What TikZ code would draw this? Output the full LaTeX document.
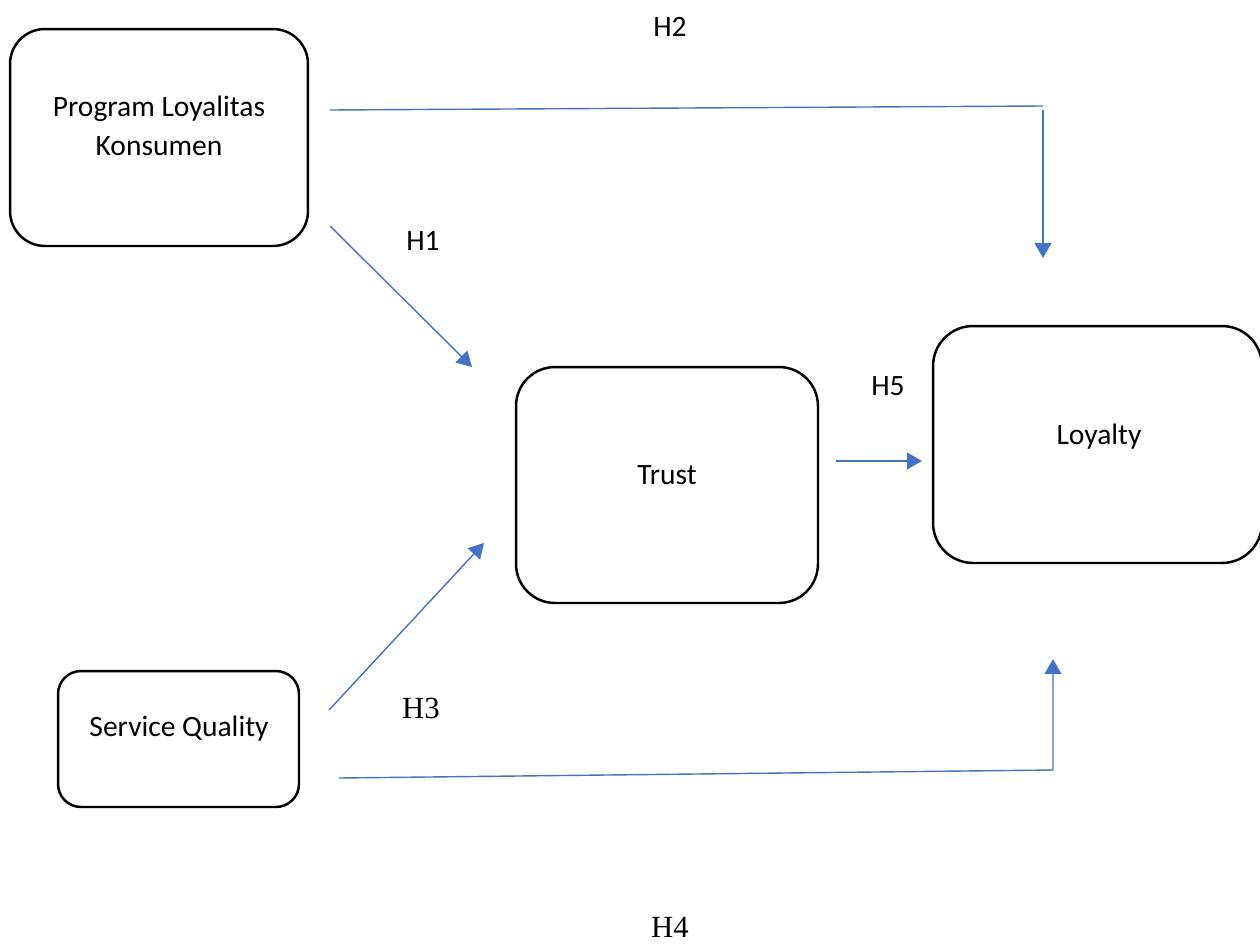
\documentclass[tikz,border=0pt]{standalone}
\usepackage{fontspec}
\setmainfont{Carlito}
\newfontfamily\timesfont{Liberation Serif}
\usepackage{xcolor}
\usetikzlibrary{arrows.meta}
\definecolor{linkblue}{HTML}{4472C4}
\tikzset{
    varbox/.style={draw, line width=1.4pt, inner sep=0pt, rounded corners=#1},
    link/.style={draw=linkblue, line width=0.8pt},
    tip/.style={link, -{Triangle[length=8.5pt, width=9.5pt]}},
    lbl/.style={font=\fontsize{16.8}{22}\selectfont, align=center, inner sep=0pt},
    serif/.style={font=\fontsize{17.5}{21}\timesfont, inner sep=0pt}
}

\begin{document}
\begin{tikzpicture}[x=0.02cm, y=-0.02cm]
                        \useasboundingbox (0, 0) rectangle (1260, 943);
                        \node[varbox=0.7cm, minimum width=5.96cm, minimum height=4.34cm] (plk) at (159, 137.5) {};
                        \node[varbox=0.78cm, minimum width=6.04cm, minimum height=4.72cm] (trust) at (667, 485) {};
                        \node[varbox=0.8cm, minimum width=6.58cm, minimum height=4.74cm] (loy) at (1097.5, 444.5) {};
                        \node[varbox=0.46cm, minimum width=4.82cm, minimum height=2.72cm] (sq) at (178.5, 739) {};
                        \node[lbl] (plkt) at (159, 126) {Program Loyalitas\\Konsumen};
                        \node[lbl] (trustt) at (667, 475) {Trust};
                        \node[lbl] (loyt) at (1099, 437) {Loyalty};
                        \node[lbl] (sqt) at (179, 729) {Service Quality};
                        \node[lbl] (h1) at (423, 241) {H1};
                        \node[lbl] (h2) at (670, 27) {H2};
                        \node[serif] (h3) at (421, 708) {H3};
                        \node[serif] (h4) at (670, 927) {H4};
                        \node[lbl] (h5) at (888, 386) {H5};
                        \coordinate (h1a) at (330, 226);
                        \coordinate (h1b) at (472, 367);
                        \coordinate (h2a) at (330, 110);
                        \coordinate (h2b) at (1043, 106);
                        \coordinate (h2c) at (1043, 110);
                        \coordinate (h2d) at (1043, 258);
                        \coordinate (h3a) at (329, 710);
                        \coordinate (h3b) at (484, 543);
                        \coordinate (h4a) at (339, 778);
                        \coordinate (h4b) at (1053, 770);
                        \coordinate (h4c) at (1053, 659);
                        \coordinate (h5a) at (836, 461);
                        \coordinate (h5b) at (922, 461);
                        \draw[tip] (h1a) -- (h1b);
                        \draw[link] (h2a) -- (h2b);
                        \draw[tip] (h2c) -- (h2d);
                        \draw[tip] (h3a) -- (h3b);
                        \draw[tip] (h4a) -- (h4b) -- (h4c);
                        \draw[tip] (h5a) -- (h5b);
                    \end{tikzpicture}
\end{document}
